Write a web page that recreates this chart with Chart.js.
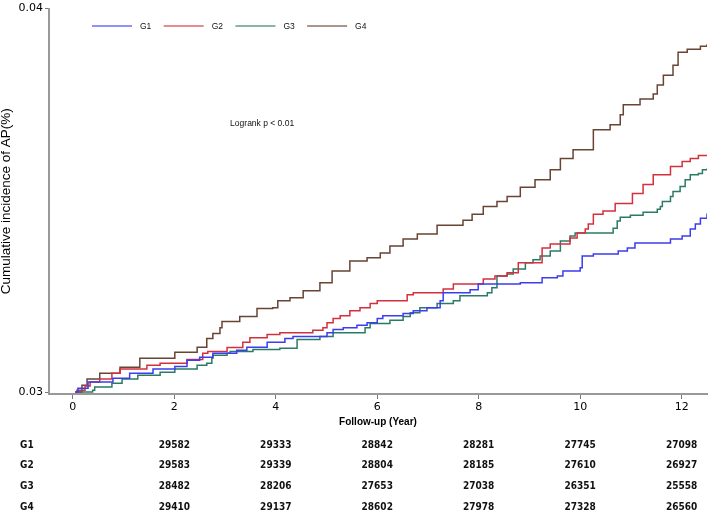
<!DOCTYPE html>
<html>
<head>
<meta charset="utf-8">
<script src="https://cdn.jsdelivr.net/npm/chart.js@4.4.0/dist/chart.umd.min.js"></script>
<style>
  html, body { margin: 0; padding: 0; background: #fff; }
</style>
</head>
<body>
<canvas id="kmChart" width="708" height="512"></canvas>
<script>
// Step curves: time (years) and cumulative incidence
const g1Time = [0.05, 0.10, 0.30, 0.79, 1.12, 1.58, 2.01, 2.25, 2.50, 2.76, 3.23, 3.43, 3.83, 4.18, 4.34, 5.01, 5.13, 5.33, 5.60, 5.80, 6.00, 6.11, 6.51, 6.71, 6.98, 7.24, 7.30, 7.83, 7.99, 8.82, 9.25, 9.55, 9.66, 10.00, 10.04, 10.26, 10.75, 10.93, 11.08, 11.78, 12.01, 12.17, 12.27, 12.37, 12.50];
const g1Inc = [0.03000, 0.03010, 0.03026, 0.03036, 0.03049, 0.03060, 0.03067, 0.03083, 0.03091, 0.03101, 0.03109, 0.03117, 0.03130, 0.03140, 0.03145, 0.03155, 0.03163, 0.03168, 0.03174, 0.03181, 0.03192, 0.03199, 0.03205, 0.03212, 0.03220, 0.03238, 0.03259, 0.03267, 0.03282, 0.03285, 0.03298, 0.03303, 0.03316, 0.03324, 0.03355, 0.03360, 0.03368, 0.03376, 0.03389, 0.03399, 0.03407, 0.03425, 0.03438, 0.03453, 0.03466];

const g2Time = [0.05, 0.08, 0.24, 0.34, 0.53, 0.77, 0.93, 1.46, 1.72, 2.25, 2.56, 2.66, 3.04, 3.35, 3.49, 3.83, 4.08, 4.73, 4.93, 5.01, 5.13, 5.27, 5.46, 5.66, 5.86, 6.00, 6.59, 6.71, 7.30, 7.50, 8.09, 8.32, 8.56, 8.78, 9.25, 9.41, 9.80, 9.94, 10.10, 10.16, 10.26, 10.45, 10.69, 11.03, 11.24, 11.44, 11.78, 12.01, 12.17, 12.33, 12.50];
const g2Inc = [0.03000, 0.03005, 0.03016, 0.03026, 0.03034, 0.03049, 0.03060, 0.03070, 0.03075, 0.03085, 0.03101, 0.03106, 0.03116, 0.03130, 0.03142, 0.03150, 0.03155, 0.03161, 0.03168, 0.03181, 0.03192, 0.03199, 0.03212, 0.03220, 0.03231, 0.03238, 0.03254, 0.03259, 0.03269, 0.03282, 0.03295, 0.03303, 0.03311, 0.03337, 0.03376, 0.03386, 0.03402, 0.03415, 0.03425, 0.03438, 0.03464, 0.03472, 0.03492, 0.03518, 0.03541, 0.03567, 0.03588, 0.03601, 0.03609, 0.03617, 0.03619];

const g3Time = [0.05, 0.39, 0.43, 0.77, 0.97, 1.28, 1.72, 2.01, 2.45, 2.64, 2.74, 2.76, 3.04, 3.10, 3.55, 4.08, 4.42, 4.87, 5.13, 5.76, 5.86, 6.25, 6.51, 6.65, 6.84, 7.18, 7.50, 7.63, 8.17, 8.26, 8.36, 8.56, 8.68, 8.92, 9.07, 9.21, 9.41, 9.61, 9.80, 9.90, 10.65, 10.73, 10.79, 10.99, 11.24, 11.52, 11.58, 11.62, 11.78, 11.83, 11.97, 12.07, 12.17, 12.33, 12.41, 12.50];
const g3Inc = [0.03000, 0.03005, 0.03013, 0.03023, 0.03034, 0.03044, 0.03052, 0.03060, 0.03070, 0.03075, 0.03088, 0.03096, 0.03101, 0.03106, 0.03111, 0.03114, 0.03137, 0.03145, 0.03155, 0.03168, 0.03179, 0.03187, 0.03197, 0.03207, 0.03220, 0.03231, 0.03238, 0.03251, 0.03259, 0.03272, 0.03303, 0.03308, 0.03321, 0.03337, 0.03345, 0.03355, 0.03368, 0.03394, 0.03407, 0.03415, 0.03427, 0.03446, 0.03456, 0.03461, 0.03469, 0.03477, 0.03484, 0.03497, 0.03510, 0.03523, 0.03536, 0.03554, 0.03567, 0.03570, 0.03580, 0.03583];

const g4Time = [0.05, 0.18, 0.28, 0.53, 0.93, 1.32, 2.01, 2.45, 2.64, 2.76, 2.90, 2.94, 3.29, 3.63, 3.94, 4.04, 4.28, 4.54, 4.87, 5.11, 5.46, 5.80, 6.06, 6.25, 6.51, 6.79, 7.18, 7.69, 7.87, 8.09, 8.36, 8.56, 8.82, 9.11, 9.41, 9.61, 9.86, 10.26, 10.59, 10.79, 10.85, 11.18, 11.44, 11.52, 11.64, 11.83, 11.93, 12.11, 12.37, 12.50];
const g4Inc = [0.03000, 0.03018, 0.03034, 0.03049, 0.03065, 0.03088, 0.03104, 0.03117, 0.03140, 0.03153, 0.03168, 0.03184, 0.03197, 0.03218, 0.03220, 0.03238, 0.03246, 0.03264, 0.03285, 0.03316, 0.03342, 0.03350, 0.03363, 0.03381, 0.03399, 0.03412, 0.03435, 0.03448, 0.03464, 0.03484, 0.03497, 0.03510, 0.03534, 0.03554, 0.03580, 0.03609, 0.03632, 0.03684, 0.03697, 0.03723, 0.03749, 0.03764, 0.03777, 0.03801, 0.03826, 0.03852, 0.03886, 0.03894, 0.03902, 0.03907];

const groups = ['G1', 'G2', 'G3', 'G4'];
const xTicks = [0, 2, 4, 6, 8, 10, 12];
const yTicks = [0.03, 0.04];

// numbers at risk, printed under x = 2, 4, ... 12
const atRiskTimes = [2, 4, 6, 8, 10, 12];
const atRiskG1 = [29582, 29333, 28842, 28281, 27745, 27098];
const atRiskG2 = [29583, 29339, 28804, 28185, 27610, 26927];
const atRiskG3 = [28482, 28206, 27653, 27038, 26351, 25558];
const atRiskG4 = [29410, 29137, 28602, 27978, 27328, 26560];

const logrankText = 'Logrank p < 0.01';

function toPoints(times, vals) {
    return times.map((t, i) => ({ x: t, y: vals[i] }));
}

const colors = ['#3c3cf0', '#d3303c', '#2b7a66', '#674434'];
const series = [[g1Time, g1Inc], [g2Time, g2Inc], [g3Time, g3Inc], [g4Time, g4Inc]];
const atRisk = [atRiskG1, atRiskG2, atRiskG3, atRiskG4];

// legend inside the plot, the p value and the at-risk table
const extrasPlugin = {
    id: 'extras',
    afterDraw(chart) {
        const ctx = chart.ctx;
        const xs = chart.scales.x, ys = chart.scales.y;
        ctx.save();
        ctx.font = '8.5px "Liberation Sans", Arial, sans-serif';
        ctx.textBaseline = 'middle';
        ctx.textAlign = 'left';
        chart.data.datasets.forEach((ds, i) => {
            const lx = 92 + i * 71.7;
            ctx.strokeStyle = ds.borderColor;
            ctx.globalAlpha = 0.75;
            ctx.lineWidth = 1.4;
            ctx.beginPath();
            ctx.moveTo(lx, 26);
            ctx.lineTo(lx + 40, 26);
            ctx.stroke();
            ctx.globalAlpha = 1;
            ctx.fillStyle = '#111';
            ctx.fillText(ds.label, lx + 48, 26.5);
        });

        ctx.fillText(logrankText, xs.getPixelForValue(3.1), ys.getPixelForValue(0.0370));

        ctx.font = 'bold 10px "DejaVu Sans Condensed", "DejaVu Sans", sans-serif';
        groups.forEach((g, r) => {
            const ty = 445 + r * 20.8;
            ctx.textAlign = 'left';
            ctx.fillText(g, 20, ty);
            ctx.textAlign = 'center';
            atRisk[r].forEach((n, c) => {
                ctx.fillText(String(n), xs.getPixelForValue(atRiskTimes[c]), ty);
            });
        });
        ctx.restore();
    }
};

const ctx = document.getElementById('kmChart').getContext('2d');
const chart = new Chart(ctx, {
    type: 'line',
    data: {
        datasets: groups.map((g, i) => ({
            label: g,
            data: toPoints(series[i][0], series[i][1]),
            borderColor: colors[i],
            borderWidth: 1.5,
            stepped: true,
            pointRadius: 0,
            fill: false
        }))
    },
    options: {
        responsive: false,
        animation: false,
        layout: { padding: { top: 6, right: 1, bottom: 80, left: 0 } },
        plugins: {
            legend: { display: false },
            tooltip: { enabled: false }
        },
        scales: {
            x: {
                type: 'linear',
                min: -0.47,
                max: 12.5,
                afterBuildTicks: s => { s.ticks = xTicks.map(v => ({ value: v })); },
                afterFit: s => { s.height = 38; },
                grid: { drawOnChartArea: false, drawTicks: true, tickLength: 5, color: '#777' },
                border: { display: true, color: '#999', width: 2 },
                ticks: {
                    color: '#000',
                    padding: 2,
                    font: { family: '"DejaVu Sans", sans-serif', size: 11 }
                },
                title: {
                    display: true,
                    text: 'Follow-up (Year)',
                    color: '#000',
                    padding: { top: 0, bottom: 4 },
                    font: { family: '"Liberation Sans", Arial, sans-serif', size: 10, weight: 'bold' }
                }
            },
            y: {
                type: 'linear',
                min: 0.02995,
                max: 0.04,
                afterBuildTicks: s => { s.ticks = yTicks.map(v => ({ value: v })); },
                afterFit: s => { s.width = 49; },
                grid: { drawOnChartArea: false, drawTicks: true, tickLength: 4, color: '#777' },
                border: { display: true, color: '#999', width: 2 },
                ticks: {
                    color: '#000',
                    padding: 2,
                    font: { family: '"DejaVu Sans", sans-serif', size: 11 },
                    callback: v => v.toFixed(2)
                },
                title: {
                    display: true,
                    text: 'Cumulative incidence of AP(%)',
                    color: '#000',
                    padding: { top: 0, bottom: 0 },
                    font: { family: '"Liberation Sans", Arial, sans-serif', size: 13.5, lineHeight: 1.0 }
                }
            }
        }
    },
    plugins: [extrasPlugin]
});
</script>
</body>
</html>
